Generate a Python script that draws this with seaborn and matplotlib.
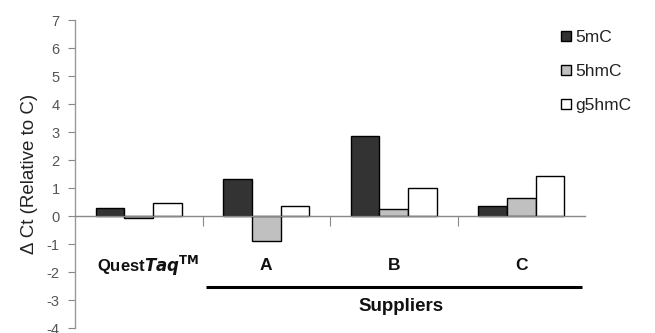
import matplotlib
matplotlib.use("Agg")
import matplotlib.pyplot as plt
import seaborn as sns
import pandas as pd

categories = ["QuestTaq", "A", "B", "C"]
series = ["5mC", "5hmC", "g5hmC"]
v_5mC = [0.27, 1.31, 2.86, 0.36]
v_5hmC = [-0.08, -0.89, 0.25, 0.63]
v_g5hmC = [0.46, 0.36, 0.99, 1.42]
colors = ["#333333", "#c0c0c0", "#ffffff"]
yticks = list(range(-4, 8))

rows = []
for name, vals in zip(series, [v_5mC, v_5hmC, v_g5hmC]):
    for c, v in zip(categories, vals):
        rows.append({"cat": c, "series": name, "value": v})
df = pd.DataFrame(rows)

sns.set_style("white")
plt.rcParams["font.family"] = ["Liberation Sans", "DejaVu Sans"]

fig = plt.figure(figsize=(6.55, 3.33), dpi=100)
ax = fig.add_axes([75/655, 1-328/333, 510/655, 308/333])

sns.barplot(data=df, x="cat", y="value", hue="series", order=categories,
            hue_order=series, palette=colors, width=0.675, gap=0,
            edgecolor="black", linewidth=1, saturation=1, ax=ax, legend=True)

ax.set_xlim(-0.5, 3.5)
ax.set_ylim(-4, 7)
ax.set_yticks(yticks)
ax.set_yticklabels([str(t) for t in yticks], color="#555555", fontsize=10.5)
ax.tick_params(axis="y", direction="out", length=5, color="#888888", left=True, pad=6)

for s in ["top", "right"]:
    ax.spines[s].set_visible(False)
ax.spines["left"].set_color("#999999")
ax.spines["left"].set_linewidth(1)
ax.spines["bottom"].set_position(("data", 0))
ax.spines["bottom"].set_color("#888888")
ax.spines["bottom"].set_linewidth(1)
ax.set_xticks([0.5, 1.5, 2.5])
ax.tick_params(axis="x", direction="out", length=7, color="#888888",
               bottom=True, labelbottom=False)
ax.set_xlabel("")
ax.set_ylabel("Δ Ct (Relative to C)", fontsize=13.5, color="#222222", labelpad=6)

# category labels
for i, c in enumerate(categories):
    if c == "QuestTaq":
        ax.text(i + 0.07, -1.78, r"Quest$\mathbfit{Taq}$$^{\mathbf{TM}}$", ha="center", va="center",
                fontsize=12, fontweight="bold", color="#111111")
    else:
        ax.text(i, -1.78, c, ha="center", va="center", fontsize=12.5,
                fontweight="bold", color="#111111")

ax.plot([0.53, 3.48], [-2.53, -2.53], color="black", lw=2.2, clip_on=False,
        solid_capstyle="butt")
ax.text(2.06, -3.24, "Suppliers", ha="center", va="center", fontsize=13.5,
        fontweight="bold", color="#111111")

leg = ax.legend(loc="upper left", bbox_to_anchor=(561/655, 1-30/333),
                bbox_transform=fig.transFigure, frameon=False,
                handlelength=0.55, handleheight=0.55, handletextpad=0.25,
                labelspacing=1.1, fontsize=12.5, borderaxespad=0, borderpad=0)
for t in leg.get_texts():
    t.set_color("#222222")

fig.savefig("out.png", dpi=100)
